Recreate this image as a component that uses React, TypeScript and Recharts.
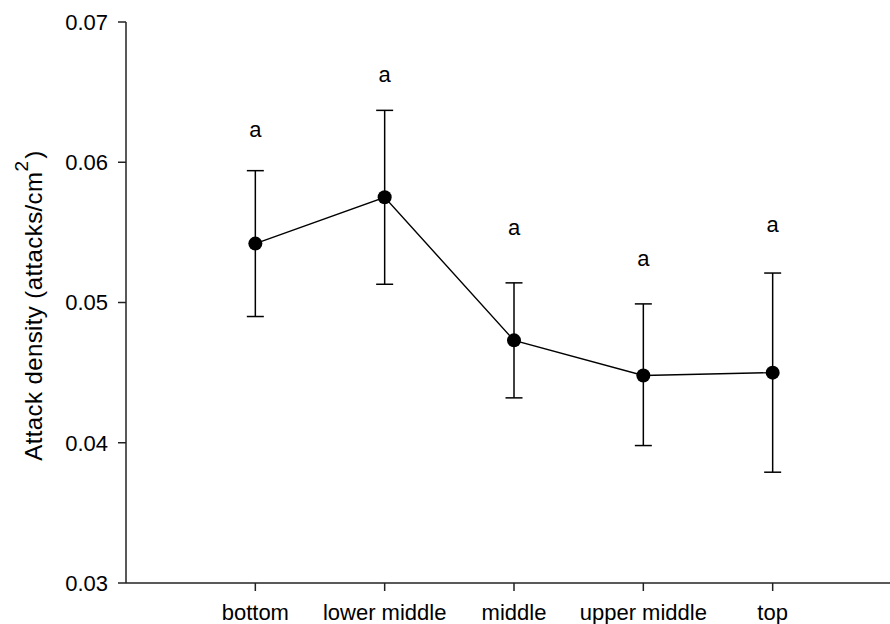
import React from 'react';
import { ComposedChart, Line, ErrorBar, Scatter, XAxis, YAxis, Label } from 'recharts';

const categories = ['bottom', 'lower middle', 'middle', 'upper middle', 'top'];
const means = [0.0542, 0.0575, 0.0473, 0.0448, 0.0450];
const upper = [0.0594, 0.0637, 0.0514, 0.0499, 0.0521];
const lower = [0.0490, 0.0513, 0.0432, 0.0398, 0.0379];
const letters = ['a', 'a', 'a', 'a', 'a'];
const letterY = [0.0622, 0.0661, 0.0552, 0.0530, 0.0554];
const yTicks = [0.03, 0.04, 0.05, 0.06, 0.07];
const xTicks = [1, 2, 3, 4, 5];

const data = categories.map((c, i) => ({
  x: i + 1,
  name: c,
  mean: means[i],
  err: [means[i] - lower[i], upper[i] - means[i]],
  letterY: letterY[i],
  letter: letters[i],
}));

const FONT = '"Liberation Sans", Arial, sans-serif';

const renderLetter = (props: any) => {
  const { cx, cy, payload } = props;
  return (
    <text x={cx} y={cy} dy="0.26em" textAnchor="middle" fontSize={22} fontFamily={FONT} fill="#000">
      {payload.letter}
    </text>
  );
};

const renderYLabel = (props: any) => {
  const vb = props.viewBox || { x: 0, y: 22, width: 126, height: 561 };
  const x = vb.x + 42;
  const y = vb.y + vb.height / 2 + 3;
  return (
    <text
      x={x}
      y={y}
      transform={`rotate(-90, ${x}, ${y})`}
      textAnchor="middle"
      fontSize={24}
      letterSpacing={0.4}
      fontFamily={FONT}
      fill="#000"
    >
      <tspan>Attack density (attacks/cm</tspan>
      <tspan fontSize={19} dy={-14}>2</tspan>
      <tspan dx={2} dy={14}>)</tspan>
    </text>
  );
};

export default function App() {
  return (
    <div style={{ position: 'absolute', left: 0, top: 0, width: 890, height: 624, overflow: 'hidden', background: '#fff' }}>
      <ComposedChart width={902} height={624} data={data} margin={{ top: 22, right: 0, bottom: 0, left: 0 }}>
        <XAxis
          type="number"
          dataKey="x"
          domain={[0, 6]}
          ticks={xTicks}
          tickFormatter={(v: number) => categories[v - 1] ?? ''}
          height={41}
          tickSize={8}
          tickMargin={13}
          axisLine={{ stroke: '#222', strokeWidth: 1.5 }}
          tickLine={{ stroke: '#222', strokeWidth: 1.5 }}
          tick={{ fill: '#000', fontSize: 22, fontFamily: FONT }}
          interval={0}
        />
        <YAxis
          type="number"
          domain={[0.03, 0.07]}
          ticks={yTicks}
          tickFormatter={(v: number) => v.toFixed(2)}
          width={126}
          tickSize={8}
          tickMargin={10}
          axisLine={{ stroke: '#222', strokeWidth: 1.5 }}
          tickLine={{ stroke: '#222', strokeWidth: 1.5 }}
          tick={{ fill: '#000', fontSize: 22, fontFamily: FONT }}
          interval={0}
        >
          <Label content={renderYLabel} />
        </YAxis>
        <Line
          dataKey="mean"
          stroke="#000"
          strokeWidth={1.4}
          dot={{ r: 7, fill: '#000', stroke: '#000', strokeWidth: 0 }}
          activeDot={false}
          isAnimationActive={false}
        >
          <ErrorBar dataKey="err" direction="y" width={8.5} stroke="#000" strokeWidth={1.5} />
        </Line>
        <Scatter dataKey="letterY" shape={renderLetter} isAnimationActive={false} />
      </ComposedChart>
    </div>
  );
}
